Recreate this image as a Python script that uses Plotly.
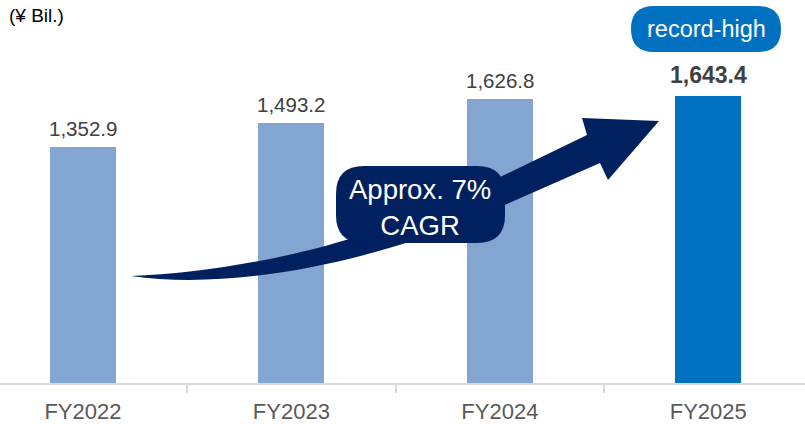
import plotly.graph_objects as go

# data
years = ["FY2022", "FY2023", "FY2024", "FY2025"]
sales = [1352.9, 1493.2, 1626.8, 1643.4]
unit_label = "(¥ Bil.)"
cagr_text = "Approx. 7%<br>CAGR"
badge_text = "record-high"

W, H = 805, 424
B = 41                  # bottom margin
PH = H - B              # plot height in px


def px(x):
    return x / W


def py(y):
    return 1 - y / PH


def make_path(cmds):
    out = []
    for c, pts in cmds:
        s = c
        for x, y in pts:
            s += f" {px(x):.5f},{py(y):.5f}"
        out.append(s)
    return " ".join(out) + " Z"


def rounded_rect(x0, y0, x1, y1, r):
    return make_path([
        ("M", [(x0 + r, y0)]),
        ("L", [(x1 - r, y0)]),
        ("Q", [(x1, y0), (x1, y0 + r)]),
        ("L", [(x1, y1 - r)]),
        ("Q", [(x1, y1), (x1 - r, y1)]),
        ("L", [(x0 + r, y1)]),
        ("Q", [(x0, y1), (x0, y1 - r)]),
        ("L", [(x0, y0 + r)]),
        ("Q", [(x0, y0), (x0 + r, y0)]),
    ])


fig = go.Figure()

fig.add_trace(go.Bar(
    x=years, y=sales,
    width=0.317,
    marker=dict(color=["#84A4D1", "#84A4D1", "#84A4D1", "#0070C0"], line=dict(width=0)),
    hoverinfo="skip",
    showlegend=False,
))

# value labels
for i, (yr, v) in enumerate(zip(years, sales)):
    last = i == len(years) - 1
    txt = f"{v:,.1f}"
    fig.add_annotation(
        x=yr, y=v, xref="x", yref="y",
        text=f"<b>{txt}</b>" if last else txt,
        showarrow=False, yanchor="bottom", yshift=6 if last else 5,
        font=dict(family="Arial", size=23 if last else 20.5, color="#404040"),
    )

# curved growth arrow
arrow = make_path([
    ("M", [(131, 276)]),
    ("C", [(200, 274), (290, 258), (352, 238)]),
    ("L", [(500, 177)]),
    ("L", [(587, 135)]),
    ("L", [(582, 118)]),
    ("L", [(659, 121)]),
    ("L", [(608, 180)]),
    ("L", [(600, 163)]),
    ("L", [(507, 204)]),
    ("C", [(390, 258), (240, 292), (131, 276)]),
])
fig.add_shape(type="path", path=arrow, xref="paper", yref="paper",
              fillcolor="#002060", line=dict(width=0), layer="above")

# CAGR box
fig.add_shape(type="path", path=rounded_rect(336, 166, 505, 243, 28),
              xref="paper", yref="paper",
              fillcolor="#002060", line=dict(width=0), layer="above")
fig.add_annotation(x=px(420), y=py(207), xref="paper", yref="paper",
                   text=cagr_text, showarrow=False,
                   xanchor="center", yanchor="middle",
                   font=dict(family="Arial", size=27.5, color="white"))

# record-high badge
fig.add_shape(type="path", path=rounded_rect(631, 6, 781, 52, 23),
              xref="paper", yref="paper",
              fillcolor="#0070C0", line=dict(width=0), layer="above")
fig.add_annotation(x=px(706), y=py(29), xref="paper", yref="paper",
                   text=badge_text, showarrow=False,
                   xanchor="center", yanchor="middle",
                   font=dict(family="Arial", size=23.5, color="white"))

# unit
fig.add_annotation(x=px(7), y=py(16), xref="paper", yref="paper",
                   text=unit_label, showarrow=False,
                   xanchor="left", yanchor="middle",
                   font=dict(family="Arial", size=19, color="#000000"))

fig.update_layout(
    width=W, height=H,
    margin=dict(l=0, r=0, t=0, b=B),
    paper_bgcolor="white",
    plot_bgcolor="white",
    bargap=0,
    xaxis=dict(
        type="category",
        range=[-0.398, 3.464],
        tickson="boundaries",
        ticks="outside", ticklen=8, tickwidth=1.5, tickcolor="#D9D9D9",
        ticklabelstandoff=8,
        showline=True, linecolor="#D9D9D9", linewidth=1.5,
        showgrid=False, zeroline=False,
        tickfont=dict(family="Arial", size=22, color="#595959"),
        fixedrange=True,
    ),
    yaxis=dict(
        range=[0, 2196],
        visible=False,
        showgrid=False, zeroline=False,
        fixedrange=True,
    ),
)

# drop the browser's default page margin so the figure sits at (0, 0)
fig.write_html("out.html", config={"displayModeBar": False},
               post_script="document.body.style.margin='0';")
